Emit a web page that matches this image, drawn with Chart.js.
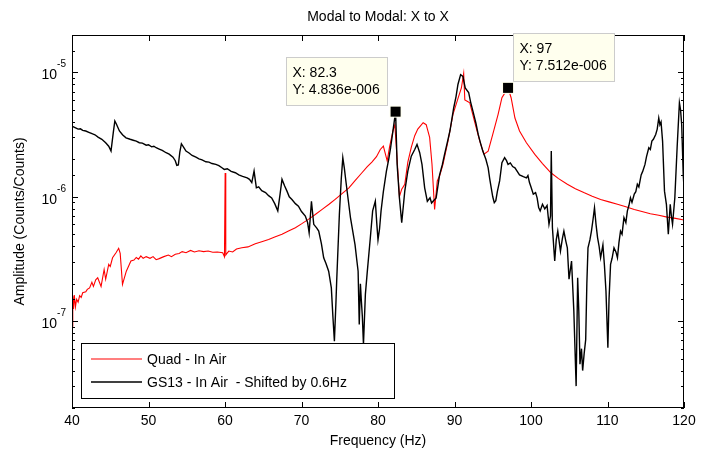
<!DOCTYPE html>
<html>
<head>
<meta charset="utf-8">
<title>Modal to Modal: X to X</title>
<script src="https://cdn.jsdelivr.net/npm/chart.js@4.4.1/dist/chart.umd.min.js"></script>
<style>
  html, body { margin: 0; padding: 0; background: #fff; }
</style>
</head>
<body>
<canvas id="modalChart" width="701" height="454"></canvas>
<script>
// Quad - In Air (red)
const quadFreq = [
  40.0, 40.1, 40.2, 40.3, 40.45, 40.6, 40.8, 41.0, 41.2, 41.4, 41.8, 42.0,
  42.3, 42.6, 42.8, 43.1, 43.36, 43.8, 44.2, 44.4, 44.8, 45.0, 45.3, 45.75,
  46.1, 46.3, 46.6, 47.1, 47.7, 48.1, 48.4, 48.7, 49.0, 49.3, 49.7, 50.2,
  50.6, 51.0, 51.4, 52.0, 52.6, 53.0, 53.5, 54.0, 54.4, 54.9, 55.5, 56.0,
  56.6, 57.2, 57.8, 58.4, 59.0, 59.7, 59.93, 60.02, 60.1, 60.25, 60.5, 61.0,
  61.5, 62.2, 63.0, 63.96, 64.8, 65.7, 66.5, 67.45, 68.3, 69.2, 70.0, 70.9,
  71.8, 72.7, 73.6, 74.4, 75.3, 76.2, 77.0, 77.9, 78.6, 79.2, 79.8, 80.3,
  80.7, 81.2, 81.5, 81.96, 82.2, 82.5, 82.8, 83.1, 83.5, 83.9, 84.35, 84.8,
  85.2, 85.9, 86.3, 86.75, 87.06, 87.4, 87.75, 88.1, 88.5, 89.15, 89.8, 90.5,
  90.9, 91.2, 91.35, 91.6, 92.0, 92.6, 93.3, 93.85, 94.4, 95.0, 95.7, 96.2,
  97.0, 97.4, 97.9, 98.5, 99.4, 100.5, 101.5, 102.6, 103.6, 104.75, 105.8, 106.9,
  108.0, 109.1, 110.2, 111.3, 112.4, 113.5, 114.5, 115.6, 116.7, 117.8, 118.9, 120.0
];
const quadAmp = [
  9.1e-8, 1.6e-7, 1.25e-7, 1.62e-7, 1.3e-7, 1.5e-7, 1.42e-7, 1.6e-7, 1.55e-7, 1.69e-7, 1.72e-7, 1.8e-7,
  1.85e-7, 2.05e-7, 1.9e-7, 2.15e-7, 2.23e-7, 1.9e-7, 2.6e-7, 2.17e-7, 2.86e-7, 2.75e-7, 3.23e-7, 3.55e-7,
  3.85e-7, 3.5e-7, 1.97e-7, 2.52e-7, 3.04e-7, 3.1e-7, 3.25e-7, 3.15e-7, 3.35e-7, 3.2e-7, 3.3e-7, 3.2e-7,
  3.3e-7, 3.12e-7, 3.18e-7, 3.3e-7, 3.4e-7, 3.3e-7, 3.45e-7, 3.5e-7, 3.62e-7, 3.55e-7, 3.7e-7, 3.6e-7,
  3.68e-7, 3.62e-7, 3.66e-7, 3.58e-7, 3.6e-7, 3.55e-7, 3.3e-7, 1.55e-6, 3.4e-7, 3.5e-7, 3.66e-7, 3.6e-7,
  3.8e-7, 3.89e-7, 3.95e-7, 4.19e-7, 4.35e-7, 4.54e-7, 4.75e-7, 4.99e-7, 5.3e-7, 5.64e-7, 6.05e-7, 6.58e-7,
  7.2e-7, 7.92e-7, 8.7e-7, 9.53e-7, 1.06e-6, 1.18e-6, 1.35e-6, 1.56e-6, 1.75e-6, 1.9e-6, 2.1e-6, 2.4e-6,
  2.55e-6, 1.94e-6, 2.5e-6, 3.4e-6, 3.8e-6, 2.0e-6, 1.0e-6, 1.15e-6, 1.26e-6, 1.9e-6, 2.5e-6, 3.1e-6,
  3.5e-6, 3.94e-6, 3.8e-6, 3.0e-6, 1.82e-6, 7.9e-7, 1.34e-6, 1.5e-6, 1.83e-6, 2.8e-6, 4.6e-6, 6.3e-6,
  7.5e-6, 9.8e-6, 6.0e-6, 5.9e-6, 5.7e-6, 4.07e-6, 2.8e-6, 2.2e-6, 2.33e-6, 3.17e-6, 4.6e-6, 6.26e-6,
  7.512e-6, 6.26e-6, 4.3e-6, 3.38e-6, 2.72e-6, 2.19e-6, 1.85e-6, 1.56e-6, 1.4e-6, 1.26e-6, 1.16e-6, 1.08e-6,
  1.01e-6, 9.5e-7, 9.1e-7, 8.7e-7, 8.3e-7, 7.9e-7, 7.6e-7, 7.3e-7, 7.1e-7, 6.86e-7, 6.7e-7, 6.5e-7
];

// GS13 - In Air, shifted by 0.6 Hz (black)
const gsFreq = [
  40.0, 40.4, 40.8, 41.1, 41.4, 41.8, 42.2, 42.7, 43.0, 43.4, 43.9, 44.4,
  44.8, 45.1, 45.4, 45.6, 45.8, 46.2, 46.6, 47.06, 47.6, 48.0, 48.4, 48.8,
  49.2, 49.7, 50.0, 50.4, 50.7, 51.0, 51.4, 51.8, 52.3, 52.7, 53.2, 53.5,
  53.7, 53.9, 54.1, 54.3, 54.6, 54.9, 55.3, 55.7, 56.2, 56.6, 57.0, 57.5,
  57.9, 58.3, 58.8, 59.2, 59.6, 59.9, 60.3, 60.8, 61.35, 61.8, 62.3, 62.9,
  63.2, 63.5, 63.8, 64.1, 64.4, 64.8, 65.3, 65.7, 66.1, 66.5, 66.9, 67.2,
  67.45, 67.8, 68.1, 68.4, 68.75, 69.2, 69.6, 70.0, 70.5, 70.8, 71.0, 71.3,
  71.6, 72.0, 72.25, 72.6, 72.9, 73.2, 73.55, 73.9, 74.1, 74.3, 74.5, 74.6,
  74.95, 75.2, 75.4, 75.6, 75.8, 76.1, 76.4, 77.0, 77.2, 77.4, 77.55, 77.7,
  77.8, 77.95, 78.1, 78.35, 78.6, 79.0, 79.3, 79.65, 79.85, 80.0, 80.2, 80.4,
  80.7, 81.1, 81.4, 81.65, 81.9, 82.3, 82.5, 82.8, 83.1, 83.5, 83.9, 84.35,
  84.8, 85.1, 85.45, 85.75, 86.1, 86.45, 86.8, 87.0, 87.2, 87.6, 88.05, 88.4,
  88.7, 89.1, 89.4, 89.9, 90.2, 90.45, 90.8, 91.1, 91.4, 91.85, 92.1, 92.4,
  92.8, 93.1, 93.4, 93.7, 94.1, 94.4, 94.6, 94.8, 95.0, 95.2, 95.4, 95.6,
  95.9, 96.2, 96.55, 96.8, 97.0, 97.3, 97.6, 97.9, 98.2, 98.5, 99.0, 99.4,
  99.6, 99.8, 100.0, 100.3, 100.6, 100.8, 101.0, 101.2, 101.5, 101.8, 102.1, 102.35,
  102.55, 102.65, 102.8, 103.1, 103.3, 103.5, 103.85, 104.1, 104.3, 104.55, 104.75, 104.97,
  105.3, 105.6, 105.75, 105.9, 106.1, 106.25, 106.4, 106.6, 106.75, 106.95, 107.15, 107.3,
  107.45, 107.7, 107.9, 108.1, 108.3, 108.5, 108.7, 108.9, 109.1, 109.4, 109.6, 109.8,
  110.05, 110.2, 110.4, 110.6, 110.85, 111.1, 111.3, 111.5, 111.7, 111.9, 112.15, 112.4,
  112.6, 112.8, 113.0, 113.2, 113.5, 113.7, 113.9, 114.1, 114.4, 114.6, 114.9, 115.1,
  115.4, 115.6, 115.8, 116.0, 116.3, 116.5, 116.7, 116.85, 117.0, 117.2, 117.45, 117.7,
  117.95, 118.2, 118.35, 118.5, 118.8, 119.1, 119.4, 119.55, 119.7, 119.9, 120.0
];
const gsAmp = [
  3.7e-6, 3.6e-6, 3.5e-6, 3.52e-6, 3.42e-6, 3.38e-6, 3.3e-6, 3.2e-6, 3.15e-6, 3.02e-6, 2.9e-6, 2.72e-6,
  2.55e-6, 2.33e-6, 3.3e-6, 4.07e-6, 3.85e-6, 3.38e-6, 3.15e-6, 2.98e-6, 2.9e-6, 2.85e-6, 2.8e-6, 2.72e-6,
  2.7e-6, 2.6e-6, 2.62e-6, 2.52e-6, 2.55e-6, 2.48e-6, 2.42e-6, 2.36e-6, 2.26e-6, 2.2e-6, 2.08e-6, 1.95e-6,
  1.79e-6, 1.8e-6, 2.3e-6, 2.67e-6, 2.5e-6, 2.33e-6, 2.25e-6, 2.15e-6, 2.08e-6, 2.02e-6, 1.98e-6, 1.91e-6,
  1.9e-6, 1.85e-6, 1.82e-6, 1.78e-6, 1.71e-6, 1.66e-6, 1.68e-6, 1.6e-6, 1.56e-6, 1.5e-6, 1.46e-6, 1.42e-6,
  1.38e-6, 1.3e-6, 1.61e-6, 1.18e-6, 1.2e-6, 1.12e-6, 1.08e-6, 1.02e-6, 9.8e-7, 8.8e-7, 7.7e-7, 1.05e-6,
  1.38e-6, 1.22e-6, 1.11e-6, 1.0e-6, 9.5e-7, 8.8e-7, 8.4e-7, 7.6e-7, 7.0e-7, 6.2e-7, 5.13e-7, 9.2e-7,
  6.0e-7, 5.6e-7, 5.3e-7, 4.2e-7, 3.23e-7, 2.9e-7, 2.52e-7, 1.85e-7, 1.1e-7, 6.9e-8, 1.4e-7, 2.1e-7,
  7.2e-7, 1.4e-6, 2.06e-6, 1.7e-6, 1.34e-6, 9.5e-7, 6.8e-7, 4.1e-7, 3.2e-7, 2.52e-7, 9.4e-8, 2.0e-7,
  1.54e-7, 1.1e-7, 6.5e-8, 1.64e-7, 2.5e-7, 4.7e-7, 7.7e-7, 9.2e-7, 6.0e-7, 4.5e-7, 5.5e-7, 7.7e-7,
  1.1e-6, 1.61e-6, 2.0e-6, 2.48e-6, 3.2e-6, 4.836e-6, 1.82e-6, 9.8e-7, 6.18e-7, 1.11e-6, 1.61e-6, 2.12e-6,
  2.4e-6, 2.64e-6, 2.26e-6, 1.82e-6, 1.18e-6, 9.2e-7, 9.8e-7, 8.9e-7, 9.2e-7, 9.8e-7, 1.5e-6, 1.8e-6,
  2.19e-6, 2.8e-6, 3.38e-6, 5.2e-6, 6.4e-6, 8.0e-6, 9.6e-6, 9.3e-6, 7.5e-6, 6.9e-6, 5.8e-6, 4.9e-6,
  3.9e-6, 3.17e-6, 2.7e-6, 2.33e-6, 2.0e-6, 1.71e-6, 1.4e-6, 1.18e-6, 1.0e-6, 8.96e-7, 9.3e-7, 1.1e-6,
  1.34e-6, 1.88e-6, 2.06e-6, 1.95e-6, 1.82e-6, 1.87e-6, 1.75e-6, 1.71e-6, 1.6e-6, 1.5e-6, 1.45e-6, 1.42e-6,
  1.48e-6, 1.3e-6, 1.2e-6, 1.05e-6, 1.08e-6, 9.8e-7, 8.2e-7, 7.7e-7, 8.7e-7, 8.0e-7, 8.5e-7, 6.0e-7,
  7.0e-7, 2.33e-6, 5.64e-7, 3.04e-7, 4.5e-7, 5.3e-7, 3.66e-7, 4.6e-7, 5.3e-7, 4.4e-7, 3.89e-7, 2.17e-7,
  3.04e-7, 1.2e-7, 6.0e-8, 3.0e-8, 2.23e-7, 1.2e-7, 4.5e-8, 6.0e-8, 4.0e-8, 5.5e-8, 7.1e-8, 2.0e-7,
  3.89e-7, 4.5e-7, 5.3e-7, 6.5e-7, 8.15e-7, 6.0e-7, 4.7e-7, 4.0e-7, 3.23e-7, 4.1e-7, 2.8e-7, 1.74e-7,
  6.1e-8, 1.5e-7, 2.86e-7, 3.2e-7, 3.89e-7, 3.6e-7, 3.23e-7, 4.3e-7, 5.3e-7, 5.0e-7, 6.8e-7, 6.2e-7,
  7.7e-7, 8.5e-7, 9.8e-7, 9.0e-7, 1.05e-6, 1.1e-6, 1.26e-6, 1.2e-6, 1.5e-6, 1.6e-6, 1.82e-6, 2.1e-6,
  2.48e-6, 2.4e-6, 2.8e-6, 2.9e-6, 3.17e-6, 3.5e-6, 4.3e-6, 3.8e-6, 4.0e-6, 2.8e-6, 1.11e-6, 8.7e-7,
  5.0e-7, 8.7e-7, 7.0e-7, 6.0e-7, 9.8e-7, 2.48e-6, 5.7e-6, 5.0e-6, 3.8e-6, 1.5e-6, 1.2e-6
];

const seriesNames = ['Quad - In Air', 'GS13 - In Air  - Shifted by 0.6Hz'];

// data tips placed on the plot
const tipFreq = [82.3, 97];
const tipAmp = [4.836e-6, 7.512e-6];

const xTickValues = [40, 50, 60, 70, 80, 90, 100, 110, 120];
const yTickExponents = [-7, -6, -5];

const FONT = '"Liberation Sans", Arial, Helvetica, sans-serif';

function toPoints(xs, ys) {
    return xs.map((v, i) => ({ x: v, y: ys[i] }));
}

// MATLAB style number for data tips, e.g. 4.836e-006
function tipNumber(v) {
    const parts = v.toExponential(3).split('e');
    const e = parseInt(parts[1], 10);
    return parts[0] + 'e' + (e < 0 ? '-' : '+') + String(Math.abs(e)).padStart(3, '0');
}

function isDecade(v) {
    const l = Math.log10(v);
    return Math.abs(l - Math.round(l)) < 1e-6;
}

// box, inward ticks, exponent labels, legend and data tips (MATLAB look)
const matlabLook = {
    id: 'matlabLook',
    afterDraw(chart) {
        const { ctx, chartArea: a } = chart;
        const xs = chart.scales.x;
        const ys = chart.scales.y;
        ctx.save();

        // axes box
        ctx.strokeStyle = '#000';
        ctx.lineWidth = 1;
        ctx.strokeRect(a.left + 0.5, a.top + 0.5, a.width - 1, a.height - 1);

        // ticks pointing inward on all four sides
        ctx.beginPath();
        xs.ticks.forEach(t => {
            const px = Math.round(xs.getPixelForValue(t.value)) + 0.5;
            ctx.moveTo(px, a.bottom); ctx.lineTo(px, a.bottom - 6);
            ctx.moveTo(px, a.top); ctx.lineTo(px, a.top + 6);
        });
        ys.ticks.forEach(t => {
            const py = Math.round(ys.getPixelForValue(t.value)) + 0.5;
            const len = isDecade(t.value) ? 6 : 3;
            ctx.moveTo(a.left, py); ctx.lineTo(a.left + len, py);
            ctx.moveTo(a.right, py); ctx.lineTo(a.right - len, py);
        });
        ctx.stroke();

        // y labels 10^n
        ctx.fillStyle = '#000';
        ctx.textAlign = 'right';
        ctx.textBaseline = 'middle';
        yTickExponents.forEach(p => {
            const py = ys.getPixelForValue(Math.pow(10, p));
            const right = a.left - 6;
            const sup = String(p);
            ctx.font = '10px ' + FONT;
            ctx.fillText(sup, right, py - 8);
            const w = ctx.measureText(sup).width;
            ctx.font = '14px ' + FONT;
            ctx.fillText('10', right - w, py + 3);
        });

        // legend, lower left inside the axes
        const lg = { left: a.left + 9, top: a.bottom - 65, w: 313, h: 55 };
        ctx.fillStyle = '#fff';
        ctx.fillRect(lg.left, lg.top, lg.w, lg.h);
        ctx.strokeStyle = '#000';
        ctx.lineWidth = 1;
        ctx.strokeRect(lg.left + 0.5, lg.top + 0.5, lg.w, lg.h);
        chart.data.datasets.forEach((ds, i) => {
            const yy = lg.top + 16 + i * 23;
            ctx.strokeStyle = ds.borderColor;
            ctx.lineWidth = ds.borderWidth;
            ctx.beginPath();
            ctx.moveTo(lg.left + 10, yy);
            ctx.lineTo(lg.left + 61, yy);
            ctx.stroke();
            ctx.fillStyle = '#000';
            ctx.font = '14px ' + FONT;
            ctx.textAlign = 'left';
            ctx.textBaseline = 'middle';
            ctx.fillText(ds.label, lg.left + 66, yy + 1);
        });

        // data tips: first one up-left of its point, second up-right
        tipFreq.forEach((f, i) => {
            const px = xs.getPixelForValue(f);
            const py = ys.getPixelForValue(tipAmp[i]);
            const bw = 101, bh = 48;
            const bx = Math.round(i === 0 ? px - 9 - bw : px + 5);
            const by = Math.round(py - 7 - bh);
            ctx.fillStyle = '#ffffee';
            ctx.fillRect(bx, by, bw, bh);
            ctx.strokeStyle = '#cccccc';
            ctx.lineWidth = 1;
            ctx.strokeRect(bx + 0.5, by + 0.5, bw, bh);
            ctx.fillStyle = '#000';
            ctx.font = '14px ' + FONT;
            ctx.textAlign = 'left';
            ctx.textBaseline = 'middle';
            ctx.fillText('X: ' + f, bx + 6.5, by + 16);
            ctx.fillText('Y: ' + tipNumber(tipAmp[i]), bx + 6.5, by + 33.5);
            ctx.fillStyle = '#ffffee';
            ctx.fillRect(px - 6, py - 6, 12, 12);
            ctx.fillStyle = '#000';
            ctx.fillRect(px - 5, py - 5, 10, 10);
        });

        ctx.restore();
    }
};

const ctxModal = document.getElementById('modalChart').getContext('2d');

const modalChart = new Chart(ctxModal, {
    type: 'line',
    data: {
        datasets: [{
            label: seriesNames[0],
            data: toPoints(quadFreq, quadAmp),
            borderColor: '#ff0000',
            borderWidth: 1.1,
            pointRadius: 0,
            tension: 0,
            order: 2
        }, {
            label: seriesNames[1],
            data: toPoints(gsFreq, gsAmp),
            borderColor: '#000000',
            borderWidth: 1.4,
            pointRadius: 0,
            tension: 0,
            order: 1
        }]
    },
    options: {
        responsive: false,
        animation: false,
        devicePixelRatio: 1,
        layout: { padding: { left: 0, right: 17, top: 0, bottom: 0 } },
        plugins: {
            legend: { display: false },
            tooltip: { enabled: false },
            title: {
                display: true,
                text: 'Modal to Modal: X to X',
                fullSize: false,
                color: '#000',
                font: { family: FONT, size: 14, weight: 'normal' },
                padding: { top: 9, bottom: 9.2 }
            }
        },
        scales: {
            x: {
                type: 'linear',
                min: 40,
                max: 120,
                afterBuildTicks: s => { s.ticks = xTickValues.map(v => ({ value: v })); },
                afterFit: s => { s.height = 46; },
                grid: { display: false, drawTicks: false },
                border: { display: false },
                ticks: { color: '#000', font: { family: FONT, size: 14 }, padding: 5, maxRotation: 0, autoSkip: false },
                title: {
                    display: true,
                    text: 'Frequency (Hz)',
                    color: '#000',
                    font: { family: FONT, size: 14 },
                    padding: { top: 0, bottom: 4.6 }
                }
            },
            y: {
                type: 'logarithmic',
                min: 2e-8,
                max: 2e-5,
                afterFit: s => { s.width = 72; },
                grid: { display: false, drawTicks: false },
                border: { display: false },
                ticks: { display: false, autoSkip: false },
                title: {
                    display: true,
                    text: 'Amplitude (Counts/Counts)',
                    color: '#000',
                    font: { family: FONT, size: 14 },
                    padding: { top: 12, bottom: 0 }
                }
            }
        }
    },
    plugins: [matlabLook]
});
</script>
</body>
</html>
